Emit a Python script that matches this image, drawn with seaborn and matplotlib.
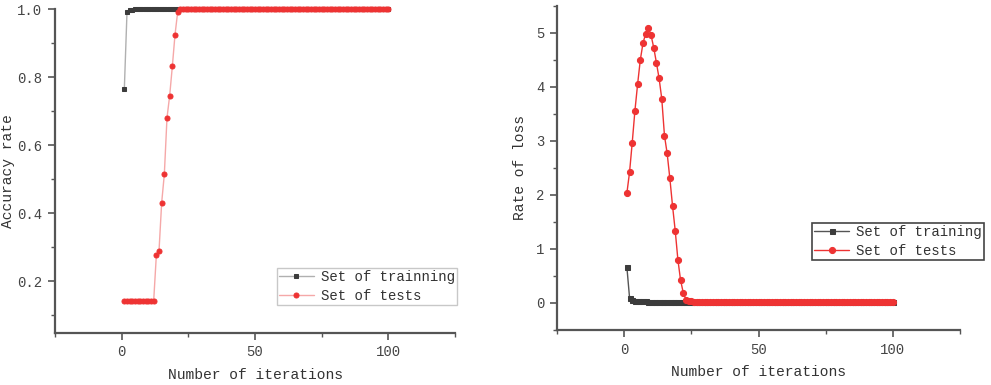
import numpy as np
import pandas as pd
import matplotlib
matplotlib.use("Agg")
import matplotlib.pyplot as plt
from matplotlib.ticker import MultipleLocator
import seaborn as sns

# ---------------- data ----------------
iterations = list(range(1, 101))

acc_train = [0.766, 0.992, 0.997, 0.999] + [1.0] * 96
acc_test = ([0.142] * 12 +
            [0.276, 0.289, 0.431, 0.515, 0.681, 0.746, 0.832, 0.925, 0.992] +
            [1.0] * 79)

loss_train = ([0.67, 0.10, 0.05, 0.04, 0.035, 0.03, 0.03, 0.028, 0.026, 0.025,
               0.024, 0.023, 0.022, 0.022, 0.021, 0.02, 0.02, 0.02, 0.02, 0.02] +
              [0.015] * 80)
loss_test = ([2.03, 2.42, 2.97, 3.56, 4.05, 4.50, 4.81, 4.99, 5.09, 4.96,
              4.73, 4.45, 4.16, 3.78, 3.10, 2.77, 2.31, 1.80, 1.34, 0.80,
              0.42, 0.19, 0.06, 0.04, 0.03, 0.02] + [0.01] * 74)

# ---------------- style ----------------
sns.set_style("ticks")
plt.rcParams['font.family'] = ['Liberation Mono', 'DejaVu Sans Mono']
plt.rcParams['axes.edgecolor'] = '#555555'
plt.rcParams['xtick.color'] = '#555555'
plt.rcParams['ytick.color'] = '#555555'
plt.rcParams['xtick.labelcolor'] = '#444444'
plt.rcParams['ytick.labelcolor'] = '#444444'

GREY = '#3c3c3c'
RED = '#ee3333'

fig = plt.figure(figsize=(9.91, 3.85), dpi=100)
W, H = 991, 385
ax1 = fig.add_axes([55 / W, (H - 333) / H, 400 / W, 323.7 / H])
ax2 = fig.add_axes([557 / W, (H - 330) / H, 403 / W, 324 / H])

df_acc = pd.DataFrame({'it': iterations, 'train': acc_train, 'test': acc_test})
df_loss = pd.DataFrame({'it': iterations, 'train': loss_train, 'test': loss_test})

# left panel
sns.lineplot(data=df_acc, x='it', y='train', ax=ax1, color='#b0b0b0', lw=1.0,
             marker='s', markersize=3.4, markerfacecolor=GREY, markeredgecolor=GREY,
             label='Set of trainning', clip_on=False)
sns.lineplot(data=df_acc, x='it', y='test', ax=ax1, color='#f5a8a8', lw=1.0,
             marker='o', markersize=3.6, markerfacecolor=RED, markeredgecolor=RED,
             label='Set of tests', clip_on=False)

# right panel
sns.lineplot(data=df_loss, x='it', y='train', ax=ax2, color='#555555', lw=1.0,
             marker='s', markersize=3.6, markerfacecolor=GREY, markeredgecolor=GREY,
             label='Set of training', clip_on=False)
sns.lineplot(data=df_loss, x='it', y='test', ax=ax2, color=RED, lw=1.0,
             marker='o', markersize=4.4, markerfacecolor=RED, markeredgecolor=RED,
             label='Set of tests', clip_on=False)

for ax in (ax1, ax2):
    sns.despine(ax=ax)
    ax.spines['left'].set_linewidth(1.6)
    ax.spines['bottom'].set_linewidth(1.6)
    ax.set_xlim(-25, 125)
    ax.xaxis.set_major_locator(MultipleLocator(50))
    ax.xaxis.set_minor_locator(MultipleLocator(25))
    ax.tick_params(which='major', direction='out', length=5, width=1.2, labelsize=10, pad=4)
    ax.tick_params(which='minor', direction='out', length=3, width=1.0)
    ax.set_xlabel('Number of iterations', fontsize=10.5, color='#333333', labelpad=6)

ax1.set_ylim(0.048, 1.0)
ax1.yaxis.set_major_locator(MultipleLocator(0.2))
ax1.yaxis.set_minor_locator(MultipleLocator(0.1))
ax1.yaxis.set_major_formatter(matplotlib.ticker.FormatStrFormatter('%.1f'))
ax1.set_ylabel('Accuracy rate', fontsize=10.5, color='#333333')
ax1.yaxis.set_label_coords((15 - 55) / 400, 0.5)

ax2.set_ylim(-0.5, 5.5)
ax2.yaxis.set_major_locator(MultipleLocator(1))
ax2.yaxis.set_minor_locator(MultipleLocator(0.5))
ax2.set_ylabel('Rate of loss', fontsize=10.5, color='#333333')
ax2.yaxis.set_label_coords((527 - 557) / 403, 0.5)

leg1 = ax1.legend(loc='upper right', bbox_to_anchor=(457 / W, 1 - 268 / H),
                  bbox_transform=fig.transFigure, borderaxespad=0, fancybox=False,
                  fontsize=10.1, handlelength=2.5, handletextpad=0.5,
                  borderpad=0.15, labelspacing=0.35, framealpha=1)
leg1.get_frame().set_edgecolor('#c8c8c8')
leg1.get_frame().set_linewidth(1.0)
for t in leg1.get_texts():
    t.set_color('#333333')

leg2 = ax2.legend(loc='upper right', bbox_to_anchor=(984 / W, 1 - 223 / H),
                  bbox_transform=fig.transFigure, borderaxespad=0, fancybox=False,
                  fontsize=10.1, handlelength=2.5, handletextpad=0.5,
                  borderpad=0.15, labelspacing=0.35, framealpha=1)
leg2.get_frame().set_edgecolor('#444444')
leg2.get_frame().set_linewidth(1.2)
for t in leg2.get_texts():
    t.set_color('#333333')

fig.savefig('out.png', dpi=100)
